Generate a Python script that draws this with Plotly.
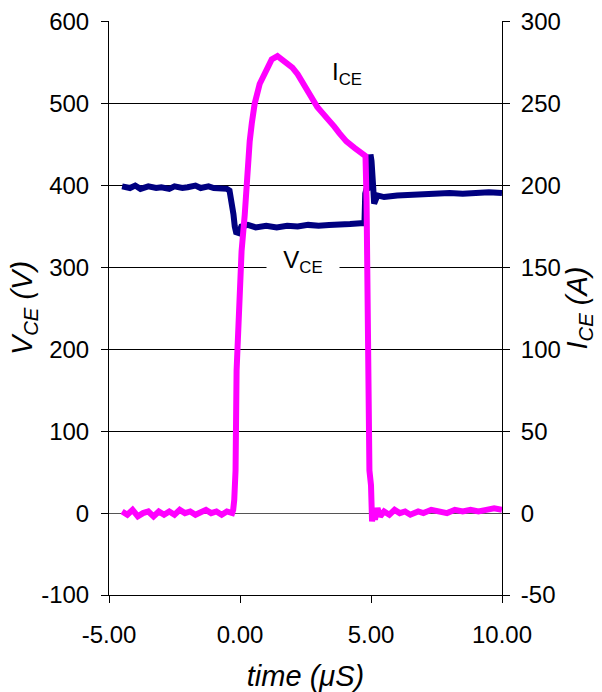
import plotly.graph_objects as go

# V_CE (left axis, volts)
vce_t = [-4.5, -4.2, -4.0, -3.8, -3.5, -3.2, -3.0, -2.7, -2.5, -2.2, -2.0, -1.7, -1.5, -1.2, -1.0,
         -0.7, -0.5, -0.4, -0.3, -0.25, -0.2, -0.15, -0.05, 0.05, 0.3, 0.6, 1.0, 1.4, 1.8, 2.2,
         2.6, 3.0, 3.4, 3.8, 4.2, 4.6, 4.75, 4.78, 4.82, 4.95, 4.98, 5.02, 5.08, 5.12, 5.17,
         5.25, 5.5, 6.0, 6.5, 7.0, 7.5, 8.0, 8.5, 9.0, 9.5, 10.0]
vce_v = [399, 397, 400, 396, 399, 397, 398, 396, 399, 397, 398, 400, 397, 399, 397,
         397, 396, 394, 380, 365, 350, 343, 342, 350, 352, 349, 351, 349, 351, 350,
         352, 351, 352, 352, 353, 354, 354, 390, 395, 398, 438, 430, 400, 378, 382,
         388, 386, 388, 389, 389, 390, 391, 390, 391, 392, 391]

# I_CE (right axis, amperes)
ice_t = [-4.5, -4.3, -4.1, -3.9, -3.7, -3.5, -3.3, -3.1, -2.9, -2.7, -2.5, -2.3, -2.1, -1.9,
         -1.7, -1.5, -1.3, -1.1, -0.9, -0.7, -0.5, -0.3, -0.26, -0.22, -0.17, -0.13, -0.05,
         0.0, 0.06, 0.18, 0.26, 0.37, 0.45, 0.56, 0.75, 1.02, 1.21, 1.43, 1.6, 1.75, 2.0,
         2.2, 2.39, 2.6, 2.77, 2.95, 3.11, 3.41, 3.6, 3.79, 4.06, 4.37, 4.55, 4.68, 4.79,
         4.83, 4.86, 4.9, 4.94, 5.0, 5.04, 5.1, 5.15, 5.25, 5.35, 5.5, 5.7, 5.9, 6.1, 6.3,
         6.5, 6.8, 7.0, 7.3, 7.6, 7.9, 8.2, 8.5, 8.8, 9.1, 9.4, 9.7, 10.0]
ice_a = [1, -1, 2, -2, 0, 1, -2, 1, -1, 1, -1, 2, 0, 1,
         -1, 1, 2, 0, 1, -1, 1, 0, 2, 8, 26, 87, 120,
         132, 160, 182, 207, 227, 238, 250, 262, 272, 277, 279, 277, 275, 272,
         268, 263, 257, 252, 248, 245, 240, 236, 232, 227, 223, 221, 220, 218,
         191, 130, 69, 26, 17, -5, 2, -4, 3, -2, 1, -1, 2, 0, 1,
         -1, 1, 0, 2, 1, 0, 2, 1, 2, 1, 2, 3, 2]

x_ticks = [-5, 0, 5, 10]
x_labels = ["-5.00", "0.00", "5.00", "10.00"]
left_ticks = [-100, 0, 100, 200, 300, 400, 500, 600]
left_labels = ["-100", "0", "100", "200", "300", "400", "500", "600"]
right_ticks = [-50, 0, 50, 100, 150, 200, 250, 300]
right_labels = ["-50", "0", "50", "100", "150", "200", "250", "300"]

FONT = "Arial, Liberation Sans, Helvetica, sans-serif"
NAVY = "#000080"
MAGENTA = "#FF00FF"
FS = 24

fig = go.Figure()
fig.add_trace(go.Scatter(x=vce_t, y=vce_v, mode="lines", line=dict(color=NAVY, width=6),
                         yaxis="y", showlegend=False))
fig.add_trace(go.Scatter(x=ice_t, y=ice_a, mode="lines", line=dict(color=MAGENTA, width=6),
                         yaxis="y2", showlegend=False))

fig.update_layout(
    width=602, height=692,
    margin=dict(l=109, r=100, t=21, b=97),
    paper_bgcolor="white", plot_bgcolor="white",
    font=dict(family=FONT, size=FS, color="black"),
    xaxis=dict(range=[-5, 10], tickvals=x_ticks, ticktext=x_labels, automargin=False,
               showline=True, linecolor="black", linewidth=1, mirror=False,
               ticks="outside", ticklen=7, tickcolor="black", ticklabelstandoff=11,
               showgrid=False, zeroline=False,
               title=dict(text="<i>time (μS)</i>", standoff=18)),
    yaxis=dict(range=[-100, 601], tickvals=left_ticks, ticktext=left_labels, automargin=False,
               showline=True, linecolor="black", linewidth=1,
               ticks="outside", ticklen=7, tickcolor="black", ticklabelstandoff=7,
               showgrid=True, gridcolor="black", gridwidth=1,
               zeroline=True, zerolinecolor="#555555", zerolinewidth=1,
               title=dict(text="<i>V<sub>CE</sub> (V)</i>", standoff=0)),
    yaxis2=dict(range=[-50, 300.5], tickvals=right_ticks, ticktext=right_labels, automargin=False,
                overlaying="y", side="right",
                showline=True, linecolor="black", linewidth=1,
                ticks="outside", ticklen=7, tickcolor="black", ticklabelstandoff=6,
                showgrid=False, zeroline=False,
                title=dict(text="<i>I<sub>CE</sub> (A)</i>", standoff=4)),
    annotations=[
        dict(x=4.1, y=537, xref="x", yref="y", text="I<sub>CE</sub>", showarrow=False,
             font=dict(family=FONT, size=FS, color="black")),
        dict(x=2.39, y=307, xref="x", yref="y", text="V<sub>CE</sub>", showarrow=False,
             bgcolor="white", width=70,
             font=dict(family=FONT, size=FS, color="black")),
    ],
)

fig.write_html("out.html", config={"displayModeBar": False},
               post_script="document.body.style.margin='0';")
